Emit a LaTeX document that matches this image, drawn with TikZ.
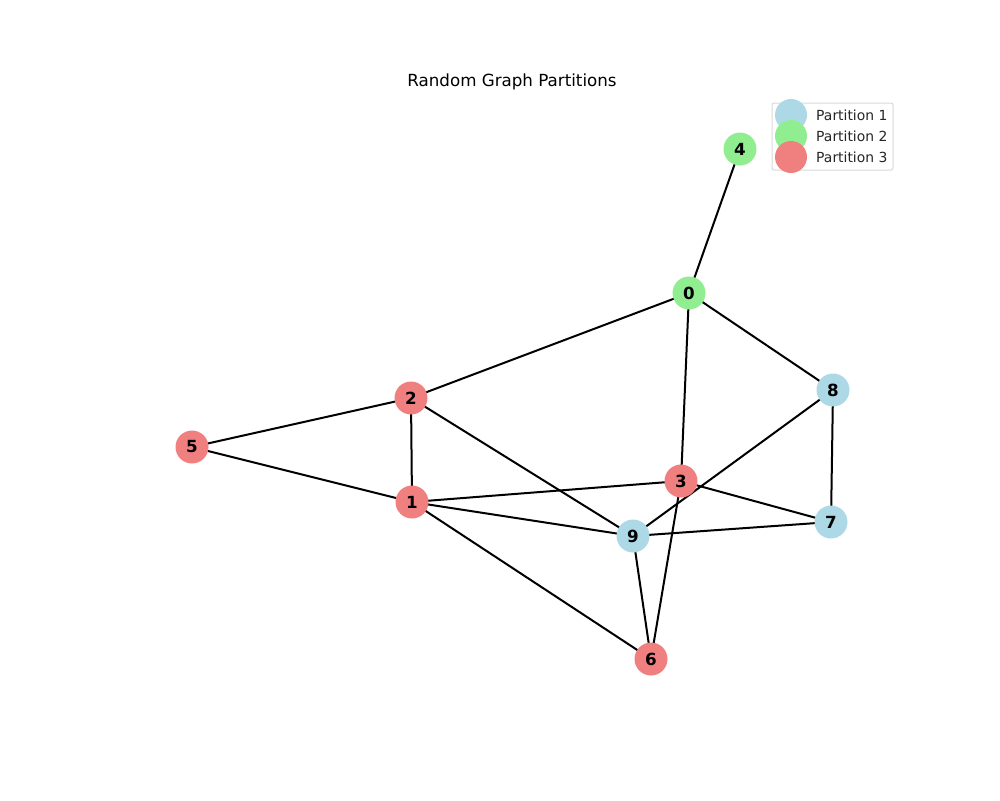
\documentclass[tikz,border=0pt]{standalone}
\usepackage{fontspec}
\setmainfont{DejaVu Sans}
\definecolor{lblue}{HTML}{ADD8E6}
\definecolor{lgreen}{HTML}{90EE90}
\definecolor{lcoral}{HTML}{F08080}
\begin{document}
\begin{tikzpicture}[x=1pt,y=-1pt,
  vtx/.style={circle,minimum size=33pt,inner sep=0pt,font=\fontsize{16.7}{18}\selectfont\bfseries},
  edge/.style={line width=2pt,black},
  leg/.style={circle,minimum size=32pt,inner sep=0pt},
  legtxt/.style={anchor=west,inner sep=0pt,font=\fontsize{13.9}{15}\selectfont,text=black!85}]
\useasboundingbox (0,0) rectangle (1000,800);
\node[font=\fontsize{16.7}{18}\selectfont] (title) at (512,82) {Random Graph Partitions};
\coordinate (c0) at (689,293);
\coordinate (c1) at (412,502);
\coordinate (c2) at (411,398);
\coordinate (c3) at (681,481);
\coordinate (c4) at (740,149);
\coordinate (c5) at (192,447);
\coordinate (c6) at (651,659);
\coordinate (c7) at (831,522);
\coordinate (c8) at (833,390);
\coordinate (c9) at (633,536);
\foreach \a/\b in {4/0,0/2,0/8,0/3,2/5,2/1,2/9,5/1,1/3,1/9,1/6,3/7,3/6,8/9,8/7,9/7,9/6}
  \draw[edge] (c\a) -- (c\b);
\node[vtx,fill=lgreen] (n0) at (c0) {0};
\node[vtx,fill=lcoral] (n1) at (c1) {1};
\node[vtx,fill=lcoral] (n2) at (c2) {2};
\node[vtx,fill=lcoral] (n3) at (c3) {3};
\node[vtx,fill=lgreen] (n4) at (c4) {4};
\node[vtx,fill=lcoral] (n5) at (c5) {5};
\node[vtx,fill=lcoral] (n6) at (c6) {6};
\node[vtx,fill=lblue] (n7) at (c7) {7};
\node[vtx,fill=lblue] (n8) at (c8) {8};
\node[vtx,fill=lblue] (n9) at (c9) {9};
% legend
\draw[draw=black!15,fill=white,rounded corners=2pt,line width=1pt] (772,103) rectangle (893,170);
\node[leg,fill=lblue] (l1) at (791,115) {};
\node[leg,fill=lgreen] (l2) at (791,136) {};
\node[leg,fill=lcoral] (l3) at (791,157) {};
\node[legtxt] (t1) at (816,115) {Partition 1};
\node[legtxt] (t2) at (816,136) {Partition 2};
\node[legtxt] (t3) at (816,157) {Partition 3};
\end{tikzpicture}
\end{document}
